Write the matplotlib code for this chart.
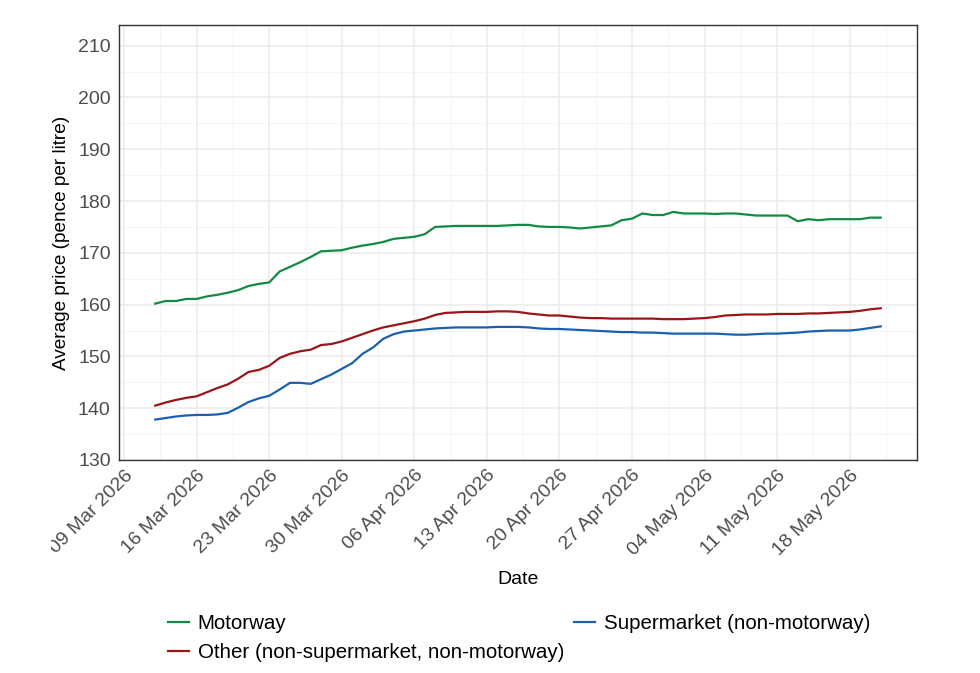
import matplotlib

matplotlib.use("Agg")
import matplotlib.dates as mdates
import matplotlib.pyplot as plt
import pandas as pd
from matplotlib.lines import Line2D
from matplotlib.patches import Rectangle
from matplotlib.ticker import AutoMinorLocator, MultipleLocator

plt.rcParams["font.family"] = ["Liberation Sans", "DejaVu Sans"]

# Daily average pump prices, 12 Mar 2026 - 21 May 2026
dates = pd.date_range("2026-03-12", "2026-05-21", freq="D")

motorway = [
    160.2, 160.7, 160.7, 161.1, 161.1, 161.6, 161.9, 162.3, 162.8, 163.6,
    164.0, 164.3, 166.4, 167.3, 168.2, 169.2, 170.3, 170.4, 170.5, 171.0,
    171.4, 171.7, 172.1, 172.7, 172.9, 173.1, 173.6, 175.0, 175.1, 175.2,
    175.2, 175.2, 175.2, 175.2, 175.3, 175.4, 175.4, 175.1, 175.0, 175.0,
    174.9, 174.7, 174.9, 175.1, 175.3, 176.3, 176.6, 177.6, 177.3, 177.3,
    177.9, 177.6, 177.6, 177.6, 177.5, 177.6, 177.6, 177.4, 177.2, 177.2,
    177.2, 177.2, 176.1, 176.5, 176.3, 176.5, 176.5, 176.5, 176.5, 176.8,
    176.8,
]
other = [
    140.5, 141.1, 141.6, 142.0, 142.3, 143.1, 143.9, 144.6, 145.7, 147.0,
    147.4, 148.2, 149.7, 150.5, 151.0, 151.3, 152.2, 152.4, 152.9, 153.6,
    154.3, 155.0, 155.6, 156.0, 156.4, 156.8, 157.3, 158.0, 158.4, 158.5,
    158.6, 158.6, 158.6, 158.7, 158.7, 158.6, 158.3, 158.1, 157.9, 157.9,
    157.7, 157.5, 157.4, 157.4, 157.3, 157.3, 157.3, 157.3, 157.3, 157.2,
    157.2, 157.2, 157.3, 157.4, 157.6, 157.9, 158.0, 158.1, 158.1, 158.1,
    158.2, 158.2, 158.2, 158.3, 158.3, 158.4, 158.5, 158.6, 158.8, 159.1,
    159.3,
]
supermarket = [
    137.8, 138.1, 138.4, 138.6, 138.7, 138.7, 138.8, 139.1, 140.1, 141.2,
    141.9, 142.4, 143.6, 144.9, 144.9, 144.7, 145.6, 146.5, 147.6, 148.7,
    150.5, 151.7, 153.4, 154.3, 154.8, 155.0, 155.2, 155.4, 155.5, 155.6,
    155.6, 155.6, 155.6, 155.7, 155.7, 155.7, 155.6, 155.4, 155.3, 155.3,
    155.2, 155.1, 155.0, 154.9, 154.8, 154.7, 154.7, 154.6, 154.6, 154.5,
    154.4, 154.4, 154.4, 154.4, 154.4, 154.3, 154.2, 154.2, 154.3, 154.4,
    154.4, 154.5, 154.6, 154.8, 154.9, 155.0, 155.0, 155.0, 155.2, 155.5,
    155.8,
]

series = {
    "Motorway": (motorway, "#128a46"),
    "Other (non-supermarket, non-motorway)": (other, "#9b1518"),
    "Supermarket (non-motorway)": (supermarket, "#1c5fae"),
}

fig = plt.figure(figsize=(9.8, 6.73), dpi=100)
ax = fig.add_axes([0.1214, 0.3165, 0.8143, 0.6464])

for name, (vals, col) in series.items():
    ax.plot(dates, vals, color=col, lw=1.6, label=name, zorder=3)

pad = pd.Timedelta(days=3.5)
ax.set_xlim(dates[0] - pad, dates[-1] + pad)
ax.set_ylim(130, 214)

ax.xaxis.set_major_locator(mdates.WeekdayLocator(byweekday=mdates.MO))
ax.xaxis.set_major_formatter(mdates.DateFormatter("%d %b %Y"))
ax.xaxis.set_minor_locator(AutoMinorLocator(2))
ax.yaxis.set_major_locator(MultipleLocator(10))
ax.yaxis.set_minor_locator(MultipleLocator(5))

ax.grid(which="major", color="#ebebeb", lw=1.1, zorder=0)
ax.grid(which="minor", color="#f2f2f2", lw=0.6, zorder=0)
ax.set_axisbelow(True)
for s in ax.spines.values():
    s.set_color("#333333")
    s.set_linewidth(1.0)

ax.tick_params(which="both", length=0)
ax.tick_params(axis="y", labelsize=14, labelcolor="#4d4d4d", pad=6)
ax.tick_params(axis="x", labelsize=14, labelcolor="#4d4d4d", pad=5)
plt.setp(ax.get_xticklabels(), rotation=45, ha="right", va="top",
         rotation_mode="anchor")

ax.set_xlabel("Date", fontsize=14)
ax.set_ylabel("Average price (pence per litre)", fontsize=13.7)
ax.xaxis.set_label_coords(0.5, -0.274)
ax.yaxis.set_label_coords(-0.0725, 0.499)
ax.xaxis.label.set_va("center")
ax.yaxis.label.set_va("center")

handles = [Line2D([], [], color=c, lw=1.6) for _, c in series.values()]
fig.legend(handles, list(series.keys()), loc="upper left",
           bbox_to_anchor=(0.1714, 1 - 614 / 673), ncol=2, frameon=False,
           fontsize=14.8, handlelength=1.0, handletextpad=0.45,
           labelspacing=0.5, columnspacing=0.5, borderpad=0,
           borderaxespad=0)

# the first date label runs off the left side in the original
fig.add_artist(Rectangle((0, 0.15), 0.052, 0.17, transform=fig.transFigure,
                         facecolor="white", edgecolor="none", zorder=10))

fig.savefig("out.png", dpi=100)
